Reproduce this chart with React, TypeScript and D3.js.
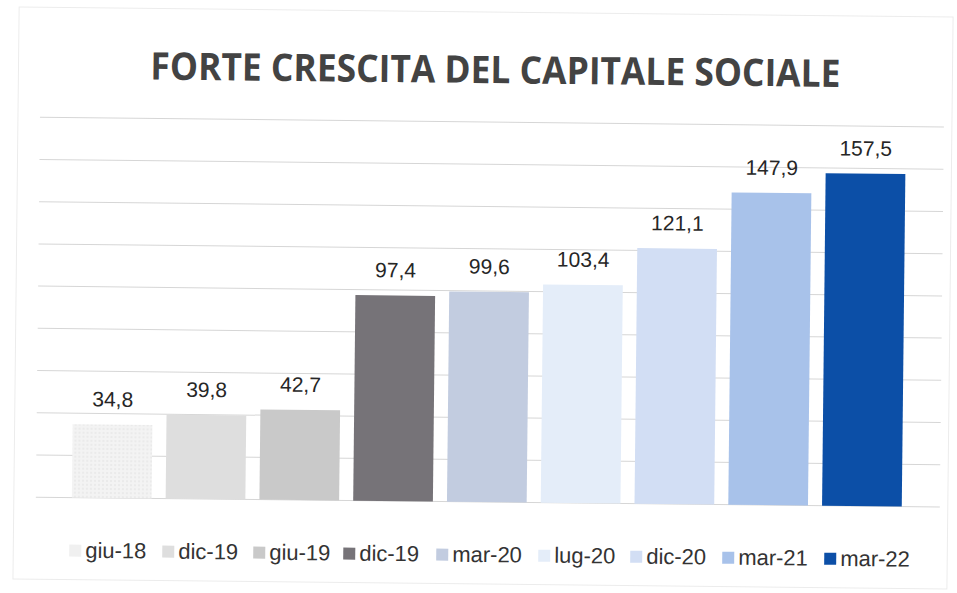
import React from "react";
import * as d3 from "d3";

const categories = ["giu-18", "dic-19", "giu-19", "dic-19", "mar-20", "lug-20", "dic-20", "mar-21", "mar-22"];
const values = [34.8, 39.8, 42.7, 97.4, 99.6, 103.4, 121.1, 147.9, 157.5];
const valueLabels = ["34,8", "39,8", "42,7", "97,4", "99,6", "103,4", "121,1", "147,9", "157,5"];
const colors = ["#f0f0f0", "#dedede", "#c9c9c9", "#767378", "#c2cce0", "#e4edf9", "#d2def4", "#a8c2ea", "#0c4fa7"];
const yTicks = [0, 20, 40, 60, 80, 100, 120, 140, 160, 180];
const title = "FORTE CRESCITA DEL CAPITALE SOCIALE";

const W = 957;
const H = 593;

export default function App() {
  const idx = categories.map((_, i) => i);
  const x = d3.scaleBand<number>().domain(idx).range([67, 911]).paddingInner(0.15).paddingOuter(0.075);
  const y = d3.scaleLinear().domain([0, 180]).range([502, 122]);

  const legendX = [72, 165, 256, 346, 439, 541, 633, 725, 827];

  return (
    <svg width={W} height={H} style={{ position: "absolute", left: 0, top: 0, background: "#fff" }}>
      <defs>
        <pattern id="dots" width="4" height="4" patternUnits="userSpaceOnUse">
          <rect width="4" height="4" fill="#f3f3f3" />
          <circle cx="1" cy="1" r="0.7" fill="#dcdcdc" />
        </pattern>
      </defs>
      <rect x={0} y={0} width={W} height={H} fill="#fff" />
      <g transform="rotate(0.62 480 300)">
        <rect x={16} y={12} width={934} height={572} fill="none" stroke="#ececec" strokeWidth={1} />
        <text
          x={493}
          y={83}
          textAnchor="middle"
          fontFamily="'Open Sans', 'Liberation Sans', Arial, sans-serif"
          fontWeight={700}
          fontSize={38}
          fill="#434343"
          textLength={690}
          lengthAdjust="spacingAndGlyphs"
        >
          {title}
        </text>
        {yTicks.map((t) => (
          <line key={t} x1={38} x2={942} y1={y(t)} y2={y(t)} stroke="#d6d6d6" strokeWidth={1} />
        ))}
        {idx.map((i) => (
          <g key={i}>
            <rect
              x={x(i)}
              y={y(values[i])}
              width={x.bandwidth()}
              height={y(0) - y(values[i])}
              fill={i === 0 ? "url(#dots)" : colors[i]}
            />
            <text
              x={(x(i) as number) + x.bandwidth() / 2}
              y={y(values[i]) - 18}
              textAnchor="middle"
              fontFamily="'Liberation Sans', Arial, sans-serif"
              fontSize={21}
              fill="#262626"
            >
              {valueLabels[i]}
            </text>
          </g>
        ))}
        {idx.map((i) => (
          <g key={"l" + i}>
            <rect x={legendX[i]} y={549} width={12} height={12} fill={colors[i]} />
            <text
              x={legendX[i] + 16}
              y={562}
              fontFamily="'Liberation Sans', Arial, sans-serif"
              fontSize={22}
              fill="#333"
            >
              {categories[i]}
            </text>
          </g>
        ))}
      </g>
    </svg>
  );
}
